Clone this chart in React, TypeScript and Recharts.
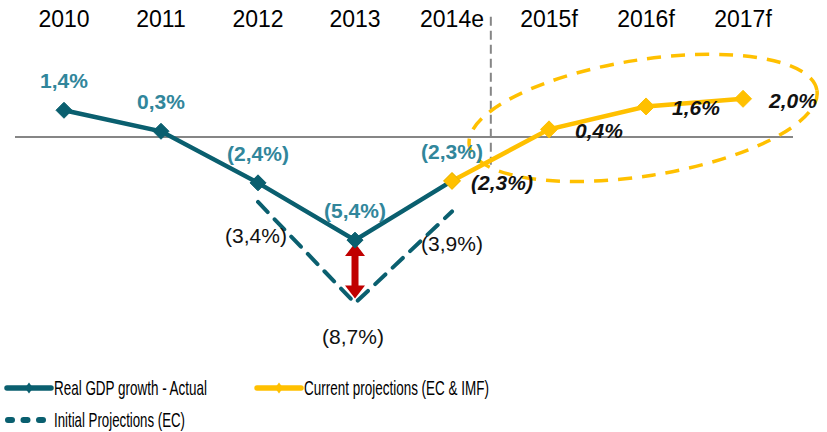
import React from 'react';
import {
  LineChart,
  Line,
  XAxis,
  YAxis,
  ReferenceLine,
  ReferenceDot,
  ReferenceArea,
  Legend,
  LabelList,
} from 'recharts';

// ---------- data ----------
const categories = ['2010', '2011', '2012', '2013', '2014e', '2015f', '2016f', '2017f'];
const actualGrowth: (number | null)[] = [1.4, 0.3, -2.4, -5.4, -2.3, null, null, null];
const currentProjections: (number | null)[] = [null, null, null, null, -2.3, 0.4, 1.6, 2.0];
const initialProjections: (number | null)[] = [null, null, -3.4, -8.7, -3.9, null, null, null];
const seriesNames = ['Real GDP growth - Actual', 'Current projections (EC & IMF)', 'Initial Projections (EC)'];

// annotations (in data coordinates)
const forecastDividerIndex = 4.4;
const forecastDividerRange = [6.3, -1.45];
const gapArrowIndex = 3;
const gapArrowRange = [-5.55, -8.45];
const highlightCenter = { index: 5.97, value: 1.0 };

const data = categories.map((cat, i) => ({
  i,
  cat,
  actual: actualGrowth[i],
  current: currentProjections[i],
  initial: initialProjections[i],
}));

// ---------- style ----------
const TEAL = '#0A5F6F';
const TEAL_LABEL = '#31869B';
const YELLOW = '#FFC000';
const RED = '#C00000';
const GRAY = '#868686';
const FONT = '"Liberation Sans", Arial, Helvetica, sans-serif';

const fmt = (v: number) => {
  const s = Math.abs(v).toFixed(1).replace('.', ',') + '%';
  return v < 0 ? `(${s})` : s;
};

const Diamond = (color: string, h: number) => (props: any) => {
  const { cx, cy, index, value } = props;
  if (cx == null || cy == null || value == null) return <g key={`d-${index}`} />;
  return (
    <polygon
      key={`d-${index}`}
      points={`${cx},${cy - h} ${cx + h},${cy} ${cx},${cy + h} ${cx - h},${cy}`}
      fill={color}
      stroke={color}
      strokeWidth={1}
    />
  );
};

const ActualLabel = (props: any) => {
  const { x, y, value } = props;
  if (value == null || x == null) return null;
  return (
    <text x={x} y={y - 22} textAnchor="middle" fill={TEAL_LABEL} fontFamily={FONT} fontSize={21} fontWeight="bold">
      {fmt(value)}
    </text>
  );
};

const InitialLabel = (props: any) => {
  const { x, y, value, index } = props;
  if (value == null || x == null) return null;
  if (index === 4) return null;
  return (
    <text x={x - 2} y={y + 41} textAnchor="middle" fill="#111" fontFamily={FONT} fontSize={21}>
      {fmt(value)}
    </text>
  );
};

const CurrentLabel = (props: any) => {
  const { x, y, value } = props;
  if (value == null || x == null) return null;
  return (
    <text x={x + 50} y={y + 9} textAnchor="middle" fill="#111" fontFamily={FONT} fontSize={21} fontWeight="bold" fontStyle="italic">
      {fmt(value)}
    </text>
  );
};

const InitialLastLabel = (props: any) => {
  const { x, y, value, index } = props;
  if (value == null || x == null || index !== 4) return null;
  return (
    <text x={x} y={y + 40} textAnchor="middle" fill="#111" fontFamily={FONT} fontSize={21}>
      {fmt(value)}
    </text>
  );
};

const TopTick = (props: any) => {
  const { x, payload } = props;
  return (
    <text x={x} y={27} textAnchor="middle" fill="#000" fontFamily={FONT} fontSize={23}>
      {categories[payload.value]}
    </text>
  );
};

const ArrowShape = (props: any) => {
  const { x, y, width, height } = props;
  const cx = x + width / 2;
  const top = y;
  const bottom = y + height;
  const hw = 10;
  const sw = 3.5;
  const hl = 13;
  const pts = [
    [cx, top],
    [cx + hw, top + hl],
    [cx + sw, top + hl],
    [cx + sw, bottom - hl],
    [cx + hw, bottom - hl],
    [cx, bottom],
    [cx - hw, bottom - hl],
    [cx - sw, bottom - hl],
    [cx - sw, top + hl],
    [cx - hw, top + hl],
  ]
    .map((p) => p.join(','))
    .join(' ');
  return <polygon points={pts} fill={RED} />;
};

const EllipseShape = (props: any) => {
  const { cx, cy } = props;
  return (
    <ellipse
      cx={cx}
      cy={cy}
      rx={176}
      ry={58}
      transform={`rotate(-9 ${cx} ${cy})`}
      fill="none"
      stroke={YELLOW}
      strokeWidth={3.5}
      strokeDasharray="14 10"
    />
  );
};

const legendLayout = [
  { name: seriesNames[0], color: TEAL, dashed: false, x: 5, y: 28, textLen: 153 },
  { name: seriesNames[1], color: YELLOW, dashed: false, x: 255, y: 28, textLen: 185 },
  { name: seriesNames[2], color: TEAL, dashed: true, x: 5, y: 60, textLen: 131 },
];

const LegendContent = () => (
  <svg width={827} height={72} style={{ display: 'block' }}>
    {legendLayout.map((it) => (
      <g key={it.name}>
        {it.dashed ? (
          <line x1={it.x + 3} y1={it.y} x2={it.x + 40} y2={it.y} stroke={it.color} strokeWidth={6} strokeLinecap="round" strokeDasharray="4 11.5" />
        ) : (
          <>
            <line x1={it.x + 2} y1={it.y} x2={it.x + 46} y2={it.y} stroke={it.color} strokeWidth={5.5} strokeLinecap="round" />
            <polygon
              points={`${it.x + 24},${it.y - 5.5} ${it.x + 28},${it.y} ${it.x + 24},${it.y + 5.5} ${it.x + 20},${it.y}`}
              fill={it.color}
            />
          </>
        )}
        <text
          x={it.x + 49}
          y={it.y + 7}
          fontFamily={FONT}
          fontSize={21}
          fill="#000"
          textLength={it.textLen}
          lengthAdjust="spacingAndGlyphs"
        >
          {it.name}
        </text>
      </g>
    ))}
  </svg>
);

export default function App() {
  return (
    <div style={{ position: 'absolute', left: 0, top: 0, width: 827, height: 432, background: '#fff' }}>
      <LineChart width={827} height={432} data={data} margin={{ top: 11.5, right: 34, bottom: 104, left: 15 }}>
        <XAxis
          dataKey="i"
          type="number"
          orientation="top"
          domain={[-0.505, 7.515]}
          ticks={[0, 1, 2, 3, 4, 5, 6, 7]}
          axisLine={false}
          tickLine={false}
          height={30}
          tick={<TopTick />}
          allowDataOverflow
        />
        <YAxis type="number" domain={[-10, 5]} hide allowDataOverflow />
        <ReferenceLine y={0} stroke={GRAY} strokeWidth={2} />
        <ReferenceLine
          segment={[
            { x: forecastDividerIndex, y: forecastDividerRange[0] },
            { x: forecastDividerIndex, y: forecastDividerRange[1] },
          ]}
          stroke={GRAY}
          strokeWidth={2}
          strokeDasharray="9 5"
          ifOverflow="visible"
        />
        <Line
          dataKey="initial"
          name={seriesNames[2]}
          stroke={TEAL}
          strokeWidth={4}
          strokeDasharray="14 10"
          strokeLinecap="round"
          dot={false}
          activeDot={false}
          isAnimationActive={false}
          connectNulls={false}
        >
          <LabelList dataKey="initial" content={<InitialLabel />} />
          <LabelList dataKey="initial" content={<InitialLastLabel />} />
        </Line>
        <Line
          dataKey="actual"
          name={seriesNames[0]}
          stroke={TEAL}
          strokeWidth={4.5}
          dot={Diamond(TEAL, 8)}
          activeDot={false}
          isAnimationActive={false}
        >
          <LabelList dataKey="actual" content={<ActualLabel />} />
        </Line>
        <Line
          dataKey="current"
          name={seriesNames[1]}
          stroke={YELLOW}
          strokeWidth={4.5}
          dot={Diamond(YELLOW, 8.5)}
          activeDot={false}
          isAnimationActive={false}
        >
          <LabelList dataKey="current" content={<CurrentLabel />} />
        </Line>
        <ReferenceArea
          x1={gapArrowIndex - 0.1}
          x2={gapArrowIndex + 0.1}
          y1={gapArrowRange[1]}
          y2={gapArrowRange[0]}
          shape={<ArrowShape />}
          ifOverflow="visible"
        />
        <ReferenceDot
          x={highlightCenter.index}
          y={highlightCenter.value}
          r={10}
          shape={<EllipseShape />}
          ifOverflow="visible"
        />
        <Legend
          layout="horizontal"
          verticalAlign="middle"
          align="center"
          wrapperStyle={{ top: 360, left: 0, width: 827, height: 72 }}
          content={<LegendContent />}
        />
      </LineChart>
    </div>
  );
}
